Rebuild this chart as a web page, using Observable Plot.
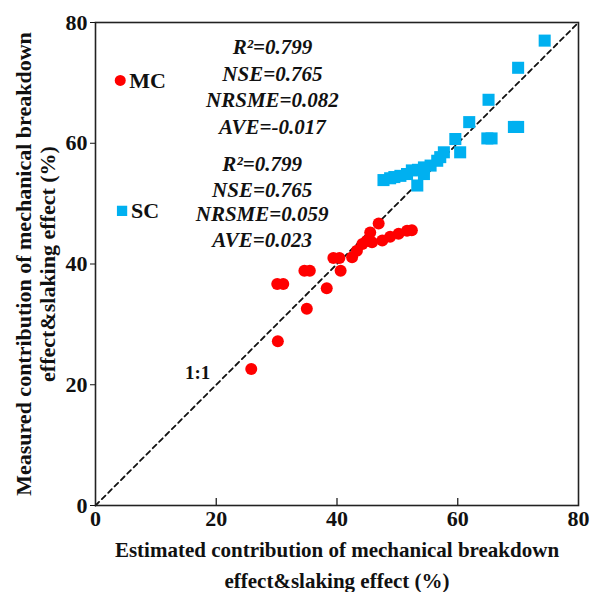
<!DOCTYPE html>
<html><head><meta charset="utf-8">
<script src="https://cdn.jsdelivr.net/npm/d3@7"></script>
<script src="https://cdn.jsdelivr.net/npm/@observablehq/plot@0.6"></script>
<style>body{margin:0;background:#fff}</style>
</head><body><div id="chart"></div>
<script>
// MC (red circles): estimated vs measured
const mcEstimated = [25.8, 30.2, 35.0, 38.3, 30.1, 31.1, 34.6, 35.5, 40.6, 39.4, 40.4, 42.5, 43.3, 44.2, 44.9, 45.5, 46.9, 45.8, 47.5, 48.8, 50.2, 51.6, 52.4];
const mcMeasured  = [22.6, 27.2, 32.6, 36.0, 36.7, 36.7, 38.9, 38.9, 38.9, 41.0, 41.0, 41.1, 42.2, 43.3, 43.8, 45.2, 46.7, 43.6, 43.9, 44.5, 45.0, 45.5, 45.6];
// SC (blue squares)
const scEstimated = [74.4, 70.0, 65.1, 61.9, 69.3, 70.0, 64.9, 65.6, 59.6, 60.4, 57.7, 57.1, 56.6, 55.5, 54.4, 53.4, 52.4, 51.6, 50.5, 49.5, 48.8, 47.7, 53.3, 54.4];
const scMeasured  = [77.0, 72.5, 67.2, 63.5, 62.7, 62.7, 60.8, 60.8, 60.7, 58.5, 58.5, 57.7, 57.1, 56.3, 56.0, 55.6, 55.5, 54.9, 54.6, 54.4, 54.2, 53.9, 53.0, 54.9];
const tickValues = [0, 20, 40, 60, 80];
const innerTicks = [20, 40, 60];
const seriesNames = ["MC", "SC"];
const seriesColors = ["#ff0000", "#00b0f0"];
const statsMC = ["R\u00B2=0.799", "NSE=0.765", "NRSME=0.082", "AVE=-0.017"];
const statsSC = ["R\u00B2=0.799", "NSE=0.765", "NRSME=0.059", "AVE=0.023"];
const xTitle = ["Estimated contribution of mechanical breakdown", "effect&slaking effect (%)"];
const yTitle = ["Measured contribution of mechanical breakdown", "effect&slaking effect (%)"];
const oneToOne = "1:1";

const mc = mcEstimated.map((x, i) => ({x, y: mcMeasured[i]}));
const sc = scEstimated.map((x, i) => ({x, y: scMeasured[i]}));

const serif = "'Liberation Serif', 'Times New Roman', serif";
const statY1 = [75.9, 71.5, 67.2, 62.7];
const statY2 = [56.6, 52.2, 48.3, 43.9];

const chart = Plot.plot({
  width: 592,
  height: 592,
  marginLeft: 95,
  marginRight: 14,
  marginTop: 22,
  marginBottom: 87,
  style: {fontFamily: serif, background: "#fff"},
  x: {domain: [0, 80]},
  y: {domain: [0, 80]},
  marks: [
    Plot.line([[0, 0], [80, 80]], {stroke: "#111", strokeWidth: 1.8, strokeDasharray: "5,4"}),
    Plot.ruleX(innerTicks, {y1: 0, y2: 1.15, stroke: "#222", strokeWidth: 1.3}),
    Plot.axisX({ticks: tickValues, tickSize: 0, tickPadding: 5, fontSize: 22, fontWeight: "bold", fontFamily: serif, label: null, color: "#111"}),
    Plot.axisY({ticks: tickValues, tickSize: 5, tickPadding: 3, fontSize: 22, fontWeight: "bold", fontFamily: serif, label: null, color: "#111"}),
    Plot.frame({stroke: "#222", strokeWidth: 1.6}),
    Plot.dot(mc, {x: "x", y: "y", r: 6, fill: seriesColors[0], symbol: "circle"}),
    Plot.dot(sc, {x: "x", y: "y", r: 6.8, fill: seriesColors[1], symbol: "square"}),
    // legend
    Plot.dot([{x: 4.1, y: 70.4}], {x: "x", y: "y", r: 5.5, fill: seriesColors[0], symbol: "circle"}),
    Plot.dot([{x: 4.4, y: 48.8}], {x: "x", y: "y", r: 5.8, fill: seriesColors[1], symbol: "square"}),
    Plot.text([seriesNames[0]], {x: 5.6, y: 70.4, textAnchor: "start", fontSize: 22, fontWeight: "bold", fontFamily: serif, fill: "#111"}),
    Plot.text([seriesNames[1]], {x: 5.9, y: 48.8, textAnchor: "start", fontSize: 22, fontWeight: "bold", fontFamily: serif, fill: "#111"}),
    // stats
    Plot.text(statsMC, {x: 29.3, y: (d, i) => statY1[i], fontSize: 21, fontWeight: "bold", fontStyle: "italic", fontFamily: serif, fill: "#111"}),
    Plot.text(statsSC, {x: 27.6, y: (d, i) => statY2[i], fontSize: 21, fontWeight: "bold", fontStyle: "italic", fontFamily: serif, fill: "#111"}),
    Plot.text([oneToOne], {x: 16.9, y: 22.0, fontSize: 19, fontWeight: "bold", fontFamily: serif, fill: "#111"}),
    // axis titles
    Plot.text([xTitle[0]], {frameAnchor: "bottom", textAnchor: "middle", lineAnchor: "bottom", dy: 51, fontSize: 21, fontWeight: "bold", fontFamily: serif, fill: "#111"}),
    Plot.text([xTitle[1]], {frameAnchor: "bottom", textAnchor: "middle", lineAnchor: "bottom", dy: 82, fontSize: 21, fontWeight: "bold", fontFamily: serif, fill: "#111"}),
    Plot.text([yTitle[0]], {frameAnchor: "left", textAnchor: "middle", lineAnchor: "bottom", rotate: -90, dx: -65, fontSize: 22, fontWeight: "bold", fontFamily: serif, fill: "#111"}),
    Plot.text([yTitle[1]], {frameAnchor: "left", textAnchor: "middle", lineAnchor: "bottom", rotate: -90, dx: -41, fontSize: 22, fontWeight: "bold", fontFamily: serif, fill: "#111"})
  ]
});
document.getElementById("chart").appendChild(chart);
</script>
</body></html>
